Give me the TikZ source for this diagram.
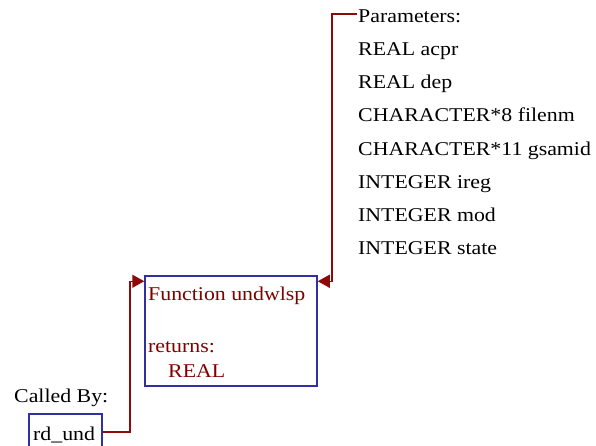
\documentclass[tikz,border=0pt]{standalone}
\usepackage{fontspec}
\setmainfont{Liberation Serif}[FakeStretch=1.12]
\usetikzlibrary{arrows.meta}
\definecolor{boxblue}{RGB}{48,48,160}
\definecolor{linered}{RGB}{140,10,10}
\definecolor{txtred}{RGB}{128,0,0}
\begin{document}
\begin{tikzpicture}[x=1pt,y=-1pt,
  every node/.style={inner sep=0pt, font=\fontsize{19.5}{23}\selectfont},
  txt/.style={anchor=base west},
  fbox/.style={draw=boxblue, line width=1.5pt, fill=white},
  conn/.style={draw=linered, line width=1.5pt, -{Triangle[length=12pt,width=13pt]}}
]
\useasboundingbox (0,0) rectangle (596,445);
% function box
\node[fbox, minimum width=172pt, minimum height=110pt] (func) at (231,331) {};
\node[txt, text=txtred] (fname) at (148,300) {Function undwlsp};
\node[txt, text=txtred] (fret) at (148,352) {returns:};
\node[txt, text=txtred] (ftype) at (168,377) {REAL};
% called by
\node[txt] (calledby) at (14,402) {Called By:};
\node[fbox, minimum width=73pt, minimum height=40pt] (rd) at (65.5,434) {};
\node[txt] (rdtxt) at (33,440) {rd\_und};
% parameters
\node[txt] (p0) at (358,22) {Parameters:};
\node[txt] (p1) at (358,55) {REAL acpr};
\node[txt] (p2) at (358,88) {REAL dep};
\node[txt] (p3) at (358,121) {CHARACTER*8 filenm};
\node[txt] (p4) at (358,155) {CHARACTER*11 gsamid};
\node[txt] (p5) at (358,188) {INTEGER ireg};
\node[txt] (p6) at (358,221) {INTEGER mod};
\node[txt] (p7) at (358,254) {INTEGER state};
% connectors
\coordinate (rdout) at ([yshift=2pt]rd.east);
\coordinate (fin) at ([yshift=-6pt]func.north west);
\coordinate (fin2) at ([yshift=-6pt]func.north east);
\coordinate (pout) at ([yshift=8pt,xshift=-1pt]p0.base west);
\draw[conn] (rdout) -- (rdout -| 130,0) -- (fin -| 130,0) -- (fin);
\draw[conn] (pout) -- (pout -| 332,0) -- (fin2 -| 332,0) -- (fin2);
\end{tikzpicture}
\end{document}
